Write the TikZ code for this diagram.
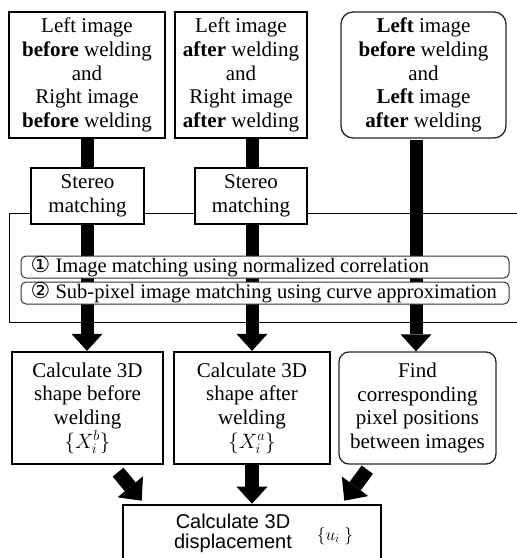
\documentclass[tikz,border=0pt]{standalone}
\usepackage{fontspec}
\setmainfont{Liberation Serif}
\newfontfamily\sansf{Liberation Sans}
\newfontfamily\dejavu{DejaVu Sans}
\usetikzlibrary{arrows.meta,calc}
\begin{document}
\begin{tikzpicture}[x=1pt,y=-1pt,
  txt/.style={font=\fontsize{21}{23.7}\selectfont, align=center, inner sep=0pt},
  sqbox/.style={draw, line width=1.4pt, fill=white, txt},
  thbox/.style={draw, line width=2.2pt, fill=white, txt},
  rbox/.style={draw=black!85, line width=1.3pt, rounded corners=12pt, fill=white, txt},
  mbox/.style={draw=black!80, line width=1pt, rounded corners=5pt, fill=white, inner sep=0pt},
  mtxt/.style={font=\fontsize{20.5}{23}\selectfont, inner sep=0pt, anchor=west},
  bar/.style={line width=13pt},
  bigarrow/.style={line width=13pt, -{Triangle[width=31pt,length=17pt,line width=0pt]}},
  diagarrow/.style={line width=14pt, -{Triangle[width=33pt,length=18pt,line width=0pt]}},
  frame/.style={line width=1pt}
]
\useasboundingbox (0,0) rectangle (517,558);
\clip (0,0) rectangle (517,558);

% columns
\coordinate (x1) at (87,0);
\coordinate (x2) at (252,0);
\coordinate (x3) at (416,0);

% frame of the matching stage
\draw[frame] (530,213) -| (9,322) -- (530,322);

% top boxes
\node[sqbox, minimum width=156pt, minimum height=126pt] (box1) at (87,75)
  {Left image\\\textbf{before} welding\\and\\Right image\\\textbf{before} welding};
\node[sqbox, minimum width=132pt, minimum height=126pt] (box2) at (241,75)
  {Left image\\\textbf{after} welding\\and\\Right image\\\textbf{after} welding};
\node[rbox, minimum width=165pt, minimum height=126pt] (box3) at (423.5,75)
  {\textbf{Left} image\\\textbf{before} welding\\and\\\textbf{Left} image\\\textbf{after} welding};

% stereo matching boxes
\node[sqbox, minimum width=113pt, minimum height=56pt] (st1) at (87.5,196)
  {Stereo\\matching};
\node[sqbox, minimum width=112pt, minimum height=56pt] (st2) at (251,196)
  {Stereo\\matching};

% middle boxes
\node[thbox, minimum width=151pt, minimum height=112pt] (box4) at (87.5,408)
  {Calculate 3D\\shape before\\welding\\$\bigl\{X_i^{b}\bigr\}$};
\node[thbox, minimum width=156pt, minimum height=112pt] (box5) at (252,408)
  {Calculate 3D\\shape after\\welding\\$\bigl\{X_i^{a}\bigr\}$};
\node[rbox, rounded corners=10pt, minimum width=157pt, minimum height=112pt] (box6) at (417.5,408)
  {Find\\corresponding\\pixel positions\\between images};

% bottom box
\node[draw, line width=2.6pt, fill=white, minimum width=258pt, minimum height=70pt, inner sep=0pt] (box7) at (252,540) {};
\node[font=\sansf\fontsize{20}{20}\selectfont, align=center, inner sep=0pt] (b7t) at (233,533)
  {Calculate 3D\\displacement};
\node[font=\fontsize{18}{18}\selectfont, inner sep=0pt] (b7m) at (335,536) {$\{u_{i}\;\}$};

% bars and arrows
\draw[bar] (box1.south -| x1) -- (st1.north -| x1);
\draw[bar] (box2.south -| x2) -- (st2.north -| x2);
\draw[bigarrow] (st1.south -| x1) -- (box4.north -| x1);
\draw[bigarrow] (st2.south -| x2) -- (box5.north -| x2);
\draw[bigarrow] ($(box3.south -| x3)+(0,1)$) -- (box6.north -| x3);

% matching method boxes (on top of bars)
\node[mbox, minimum width=488pt, minimum height=22pt] (m1) at (265,267) {};
\node[mtxt] (m1t) at ($(m1.west)+(10,0)$) {{\dejavu\fontsize{22}{22}\selectfont ①} Image matching using normalized correlation};
\node[mbox, minimum width=488pt, minimum height=22pt] (m2) at (265,293) {};
\node[mtxt] (m2t) at ($(m2.west)+(10,0)$) {{\dejavu\fontsize{22}{22}\selectfont ②} Sub-pixel image matching using curve approximation};

% arrows to the bottom box
\draw[diagarrow] ($(box4.south east)+(-46,7)$) -- ($(box7.north west)+(20,-3)$);
\draw[bigarrow, line width=14pt] (box5.south) -- (box7.north -| box5.south);
\draw[diagarrow] ($(box6.south west)+(29,5)$) -- ($(box7.north east)+(-38,-3)$);
\end{tikzpicture}
\end{document}
